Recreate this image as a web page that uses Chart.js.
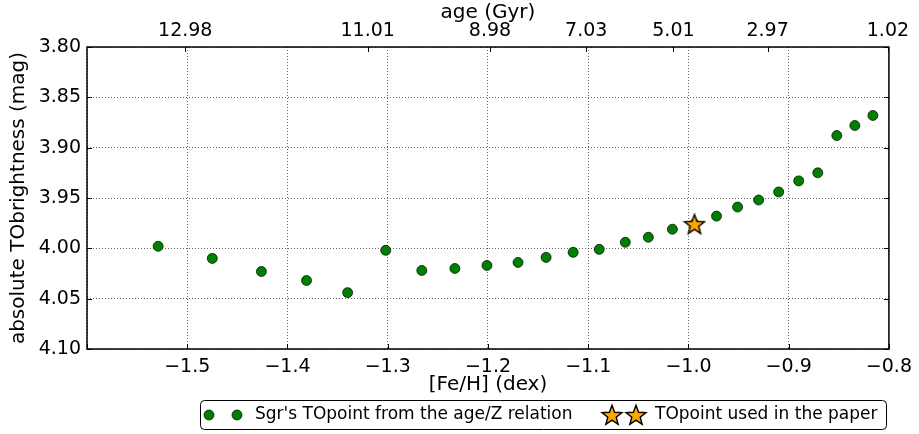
<!DOCTYPE html>
<html>
<head>
<meta charset="utf-8">
<script src="https://cdn.jsdelivr.net/npm/chart.js@4/dist/chart.umd.min.js"></script>
<style>
  body { margin: 0; background: #fff; }
  #wrap { width: 919px; height: 434px; }
</style>
</head>
<body>
<div id="wrap"><canvas id="toChart" width="919" height="434"></canvas></div>
<script>
// [Fe/H] vs absolute turn-off brightness
const feh = [-1.529, -1.475, -1.426, -1.381, -1.340, -1.302, -1.266, -1.233, -1.201, -1.170,
             -1.142, -1.115, -1.089, -1.063, -1.040, -1.016, -0.994, -0.972, -0.951, -0.930,
             -0.910, -0.890, -0.871, -0.852, -0.834, -0.816];
const mag = [3.998, 4.010, 4.023, 4.032, 4.044, 4.002, 4.022, 4.020, 4.017, 4.014,
             4.009, 4.004, 4.001, 3.994, 3.989, 3.981, 3.976, 3.968, 3.959, 3.952,
             3.944, 3.933, 3.925, 3.888, 3.878, 3.868];

const starFeh = [-0.994];
const starMag = [3.976];

const xTicks      = [-1.6, -1.5, -1.4, -1.3, -1.2, -1.1, -1.0, -0.9, -0.8];
const xTickLabels = ['', '\u22121.5', '\u22121.4', '\u22121.3', '\u22121.2', '\u22121.1', '\u22121.0', '\u22120.9', '\u22120.8'];
const yTicks      = [3.80, 3.85, 3.90, 3.95, 4.00, 4.05, 4.10];
const yTickLabels = ['3.80', '3.85', '3.90', '3.95', '4.00', '4.05', '4.10'];

// top axis: age at given [Fe/H]
const ageTickPos    = [-1.502, -1.320, -1.198, -1.102, -1.015, -0.921, -0.801];
const ageTickLabels = ['12.98', '11.01', '8.98', '7.03', '5.01', '2.97', '1.02'];

const FONT = 'DejaVu Sans, sans-serif';
const tickFont = { family: FONT, size: 19 };
const titleFont = { family: FONT, size: 20 };

function makeStar(size) {
  const c = document.createElement('canvas');
  c.width = c.height = size;
  const g = c.getContext('2d');
  const cx = size / 2, cy = size / 2 + 0.8, R = size / 2 - 1.5, r = R * 0.42;
  g.beginPath();
  for (let i = 0; i < 10; i++) {
    const a = -Math.PI / 2 + i * Math.PI / 5;
    const rad = i % 2 ? r : R;
    g.lineTo(cx + rad * Math.cos(a), cy + rad * Math.sin(a));
  }
  g.closePath();
  g.fillStyle = '#FFA500';
  g.fill();
  g.lineWidth = 1.4;
  g.strokeStyle = '#000';
  g.stroke();
  return c;
}
const starImg = makeStar(24);

const frameAndLegend = {
  id: 'frameAndLegend',
  afterDraw(chart) {
    const { ctx, chartArea: a, scales } = chart;
    ctx.save();
    // inward tick marks
    ctx.strokeStyle = '#000';
    ctx.lineWidth = 1;
    ctx.beginPath();
    scales.x.ticks.forEach(t => {
      const px = Math.round(scales.x.getPixelForValue(t.value)) + 0.5;
      ctx.moveTo(px, a.bottom); ctx.lineTo(px, a.bottom - 5);
    });
    scales.x2.ticks.forEach(t => {
      const px = Math.round(scales.x2.getPixelForValue(t.value)) + 0.5;
      ctx.moveTo(px, a.top); ctx.lineTo(px, a.top + 5);
    });
    scales.y.ticks.forEach(t => {
      const py = Math.round(scales.y.getPixelForValue(t.value)) + 0.5;
      ctx.moveTo(a.left, py); ctx.lineTo(a.left + 5, py);
      ctx.moveTo(a.right, py); ctx.lineTo(a.right - 5, py);
    });
    ctx.stroke();
    // frame
    ctx.lineWidth = 1.5;
    ctx.strokeRect(a.left, a.top, a.right - a.left, a.bottom - a.top);

    // legend box
    const lx = 200.5, ly = 400.5, lw = 686, lh = 29;
    ctx.beginPath();
    ctx.roundRect(lx, ly, lw, lh, 4);
    ctx.fillStyle = '#fff';
    ctx.fill();
    ctx.lineWidth = 1;
    ctx.strokeStyle = '#000';
    ctx.stroke();
    const my = ly + lh / 2;
    [209, 237].forEach(px => {
      ctx.beginPath();
      ctx.arc(px, my, 5, 0, Math.PI * 2);
      ctx.fillStyle = '#008000';
      ctx.fill();
      ctx.lineWidth = 0.7;
      ctx.strokeStyle = '#000';
      ctx.stroke();
    });
    [612, 636].forEach(px => {
      ctx.drawImage(starImg, px - starImg.width / 2, my - starImg.height / 2);
    });
    ctx.fillStyle = '#000';
    ctx.font = '17px ' + FONT;
    ctx.textBaseline = 'middle';
    ctx.textAlign = 'left';
    ctx.fillText("Sgr's TOpoint from the age/Z relation", 255, my);
    ctx.fillText('TOpoint used in the paper', 655, my);
    ctx.restore();
  }
};

new Chart(document.getElementById('toChart'), {
  type: 'scatter',
  data: {
    datasets: [
      {
        label: "Sgr's TOpoint from the age/Z relation",
        data: feh.map((v, i) => ({ x: v, y: mag[i] })),
        backgroundColor: '#008000',
        borderColor: '#000',
        borderWidth: 0.7,
        pointRadius: 5,
        order: 1,
      },
      {
        label: 'TOpoint used in the paper',
        data: starFeh.map((v, i) => ({ x: v, y: starMag[i] })),
        pointStyle: starImg,
        order: 0,
      },
    ],
  },
  options: {
    responsive: false,
    animation: false,
    devicePixelRatio: 1,
    layout: { padding: { left: 0, right: 25, top: 0, bottom: 0 } },
    plugins: { legend: { display: false }, tooltip: { enabled: false } },
    scales: {
      x: {
        type: 'linear', position: 'bottom', min: -1.6, max: -0.8,
        afterBuildTicks: s => { s.ticks = xTicks.map(v => ({ value: v })); },
        ticks: { callback: (v, i) => xTickLabels[i], font: tickFont, color: '#000', padding: 7, autoSkip: false, maxRotation: 0 },
        grid: { color: 'rgba(0,0,0,0.6)', lineWidth: 1, drawTicks: false },
        border: { display: false, dash: [1, 2] },
        title: { display: true, text: '[Fe/H] (dex)', font: titleFont, color: '#000', padding: { top: 0, bottom: 37 } },
        afterFit: s => { s.height = 85; },
      },
      x2: {
        type: 'linear', position: 'top', min: -1.6, max: -0.8,
        afterBuildTicks: s => { s.ticks = ageTickPos.map(v => ({ value: v })); },
        ticks: { callback: (v, i) => ageTickLabels[i], font: tickFont, color: '#000', padding: 5, autoSkip: false, maxRotation: 0 },
        grid: { drawOnChartArea: false, drawTicks: false },
        border: { display: false },
        title: { display: true, text: 'age (Gyr)', font: titleFont, color: '#000', padding: { top: 1, bottom: 0 } },
        afterFit: s => { s.height = 47; },
      },
      y: {
        type: 'linear', position: 'left', reverse: true, min: 3.8, max: 4.1,
        afterBuildTicks: s => { s.ticks = yTicks.map(v => ({ value: v })); },
        ticks: { callback: (v, i) => yTickLabels[i], font: tickFont, color: '#000', padding: 6 },
        grid: { color: 'rgba(0,0,0,0.6)', lineWidth: 1, drawTicks: false },
        border: { display: false, dash: [1, 2] },
        title: { display: true, text: 'absolute TObrightness (mag)', font: titleFont, color: '#000', padding: { top: 7, bottom: 0 } },
        afterFit: s => { s.width = 87; },
      },
    },
  },
  plugins: [frameAndLegend],
});
</script>
</body>
</html>
